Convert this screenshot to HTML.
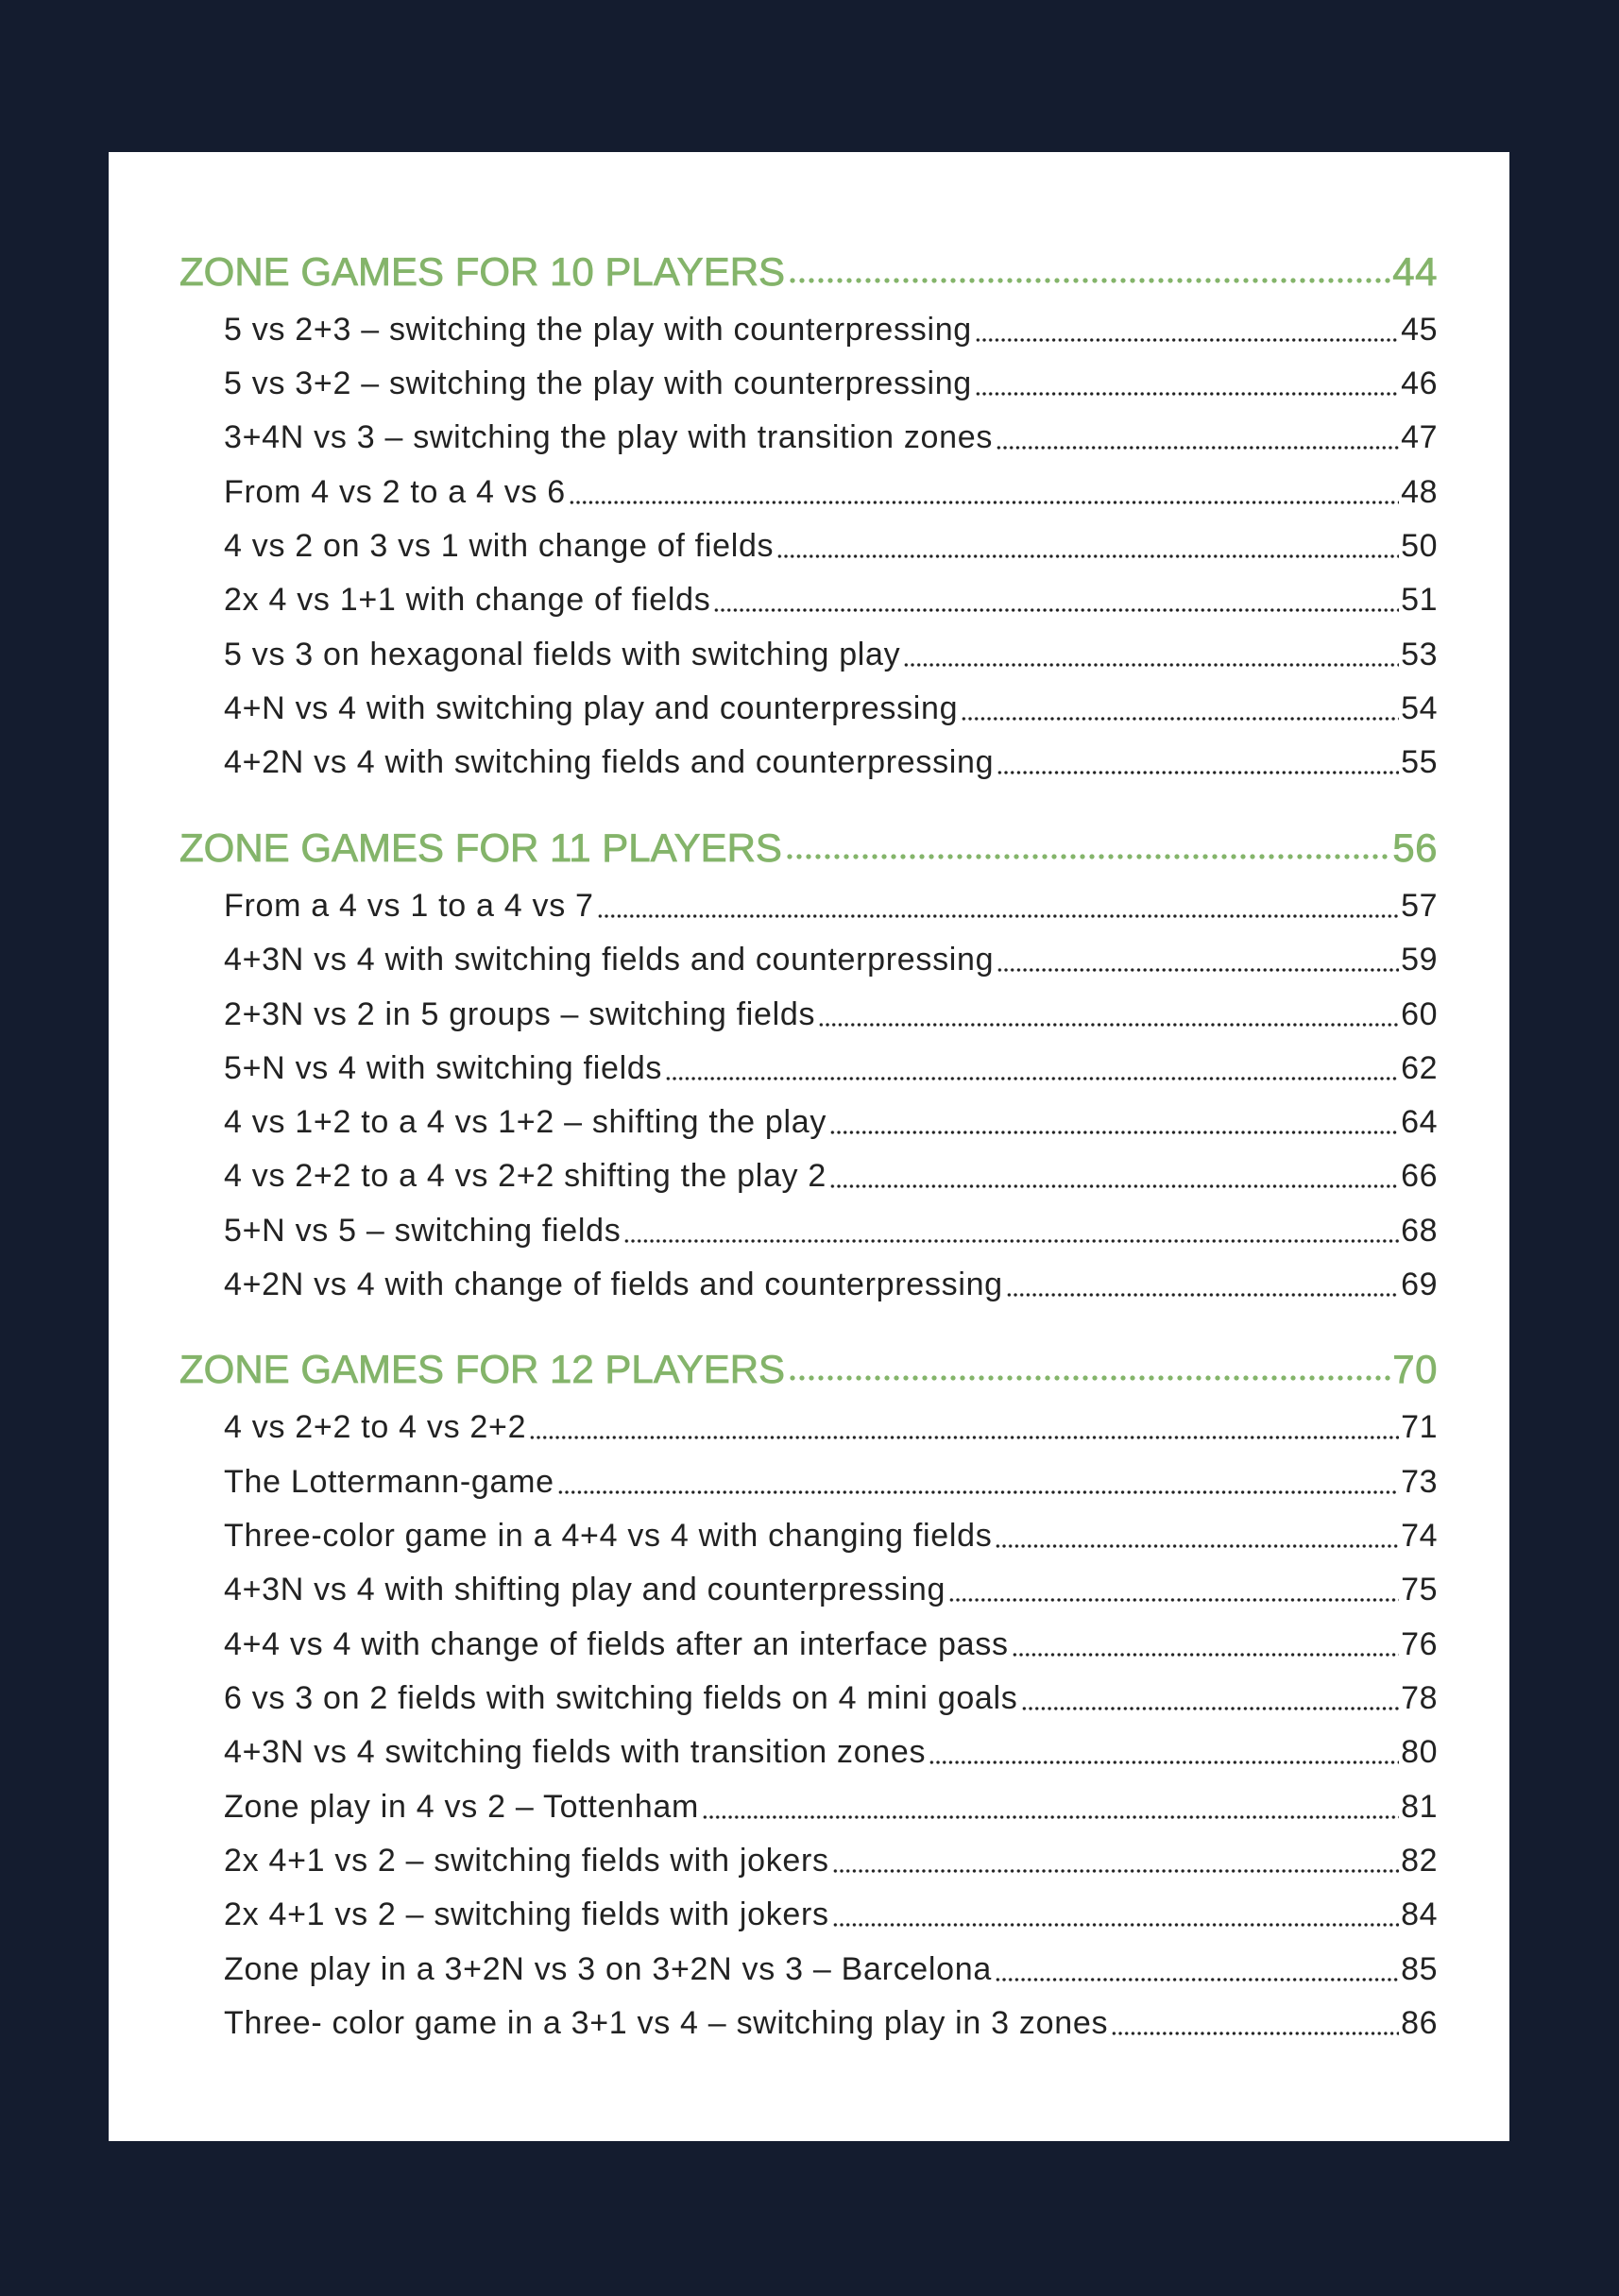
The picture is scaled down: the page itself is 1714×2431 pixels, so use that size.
<!DOCTYPE html>
<html><head><meta charset="utf-8"><style>
html,body{margin:0;padding:0}
body{width:1714px;height:2431px;background:#141c2f;position:relative;overflow:hidden;font-family:"Liberation Sans",sans-serif}
.box{position:absolute;left:115px;top:161px;width:1483px;height:2106px;background:#fff}
.l{position:absolute;left:237px;width:1285px;height:50px;display:flex;align-items:flex-end;font-size:34px;color:#222;line-height:50px}
.l .t{white-space:nowrap;letter-spacing:0.7px}
.l .f{flex:1;height:6px;margin:0 2px 11px 3px;background:radial-gradient(circle,#222 1.5px,transparent 1.9px) 0 0/6.7px 6px repeat-x}
.l .n{white-space:nowrap;letter-spacing:0.5px}
.h{left:190px;width:1332px;font-size:42px;color:#84b46a;-webkit-text-stroke:0.8px #84b46a}
.h .t{letter-spacing:0px}
.h .f{height:8px;margin-bottom:12px;background:radial-gradient(circle,#84b46a 2.4px,transparent 2.8px) 0 0/10px 8px repeat-x}
</style></head><body>
<div class="box"></div>
<div class="l h" style="top:263px"><span class="t">ZONE GAMES FOR 10 PLAYERS</span><span class="f"></span><span class="n">44</span></div>
<div class="l" style="top:324px"><span class="t">5 vs 2+3 – switching the play with counterpressing</span><span class="f"></span><span class="n">45</span></div>
<div class="l" style="top:381px"><span class="t">5 vs 3+2 – switching the play with counterpressing</span><span class="f"></span><span class="n">46</span></div>
<div class="l" style="top:438px"><span class="t">3+4N vs 3 – switching the play with transition zones</span><span class="f"></span><span class="n">47</span></div>
<div class="l" style="top:496px"><span class="t">From 4 vs 2 to a 4 vs 6</span><span class="f"></span><span class="n">48</span></div>
<div class="l" style="top:553px"><span class="t">4 vs 2 on 3 vs 1 with change of fields</span><span class="f"></span><span class="n">50</span></div>
<div class="l" style="top:610px"><span class="t">2x 4 vs 1+1 with change of fields</span><span class="f"></span><span class="n">51</span></div>
<div class="l" style="top:668px"><span class="t">5 vs 3 on hexagonal fields with switching play</span><span class="f"></span><span class="n">53</span></div>
<div class="l" style="top:725px"><span class="t">4+N vs 4 with switching play and counterpressing</span><span class="f"></span><span class="n">54</span></div>
<div class="l" style="top:782px"><span class="t">4+2N vs 4 with switching fields and counterpressing</span><span class="f"></span><span class="n">55</span></div>
<div class="l h" style="top:873px"><span class="t">ZONE GAMES FOR 11 PLAYERS</span><span class="f"></span><span class="n">56</span></div>
<div class="l" style="top:934px"><span class="t">From a 4 vs 1 to a 4 vs 7</span><span class="f"></span><span class="n">57</span></div>
<div class="l" style="top:991px"><span class="t">4+3N vs 4 with switching fields and counterpressing</span><span class="f"></span><span class="n">59</span></div>
<div class="l" style="top:1049px"><span class="t">2+3N vs 2 in 5 groups – switching fields</span><span class="f"></span><span class="n">60</span></div>
<div class="l" style="top:1106px"><span class="t">5+N vs 4 with switching fields</span><span class="f"></span><span class="n">62</span></div>
<div class="l" style="top:1163px"><span class="t">4 vs 1+2 to a 4 vs 1+2 – shifting the play</span><span class="f"></span><span class="n">64</span></div>
<div class="l" style="top:1220px"><span class="t">4 vs 2+2 to a 4 vs 2+2 shifting the play 2</span><span class="f"></span><span class="n">66</span></div>
<div class="l" style="top:1278px"><span class="t">5+N vs 5 – switching fields</span><span class="f"></span><span class="n">68</span></div>
<div class="l" style="top:1335px"><span class="t">4+2N vs 4 with change of fields and counterpressing</span><span class="f"></span><span class="n">69</span></div>
<div class="l h" style="top:1425px"><span class="t">ZONE GAMES FOR 12 PLAYERS</span><span class="f"></span><span class="n">70</span></div>
<div class="l" style="top:1486px"><span class="t">4 vs 2+2 to 4 vs 2+2</span><span class="f"></span><span class="n">71</span></div>
<div class="l" style="top:1544px"><span class="t">The Lottermann-game</span><span class="f"></span><span class="n">73</span></div>
<div class="l" style="top:1601px"><span class="t">Three-color game in a 4+4 vs 4 with changing fields</span><span class="f"></span><span class="n">74</span></div>
<div class="l" style="top:1658px"><span class="t">4+3N vs 4 with shifting play and counterpressing</span><span class="f"></span><span class="n">75</span></div>
<div class="l" style="top:1716px"><span class="t">4+4 vs 4 with change of fields after an interface pass</span><span class="f"></span><span class="n">76</span></div>
<div class="l" style="top:1773px"><span class="t">6 vs 3 on 2 fields with switching fields on 4 mini goals</span><span class="f"></span><span class="n">78</span></div>
<div class="l" style="top:1830px"><span class="t">4+3N vs 4 switching fields with transition zones</span><span class="f"></span><span class="n">80</span></div>
<div class="l" style="top:1888px"><span class="t">Zone play in 4 vs 2 – Tottenham</span><span class="f"></span><span class="n">81</span></div>
<div class="l" style="top:1945px"><span class="t">2x 4+1 vs 2 – switching fields with jokers</span><span class="f"></span><span class="n">82</span></div>
<div class="l" style="top:2002px"><span class="t">2x 4+1 vs 2 – switching fields with jokers</span><span class="f"></span><span class="n">84</span></div>
<div class="l" style="top:2060px"><span class="t">Zone play in a 3+2N vs 3 on 3+2N vs 3 – Barcelona</span><span class="f"></span><span class="n">85</span></div>
<div class="l" style="top:2117px"><span class="t">Three- color game in a 3+1 vs 4 – switching play in 3 zones</span><span class="f"></span><span class="n">86</span></div>
</body></html>
